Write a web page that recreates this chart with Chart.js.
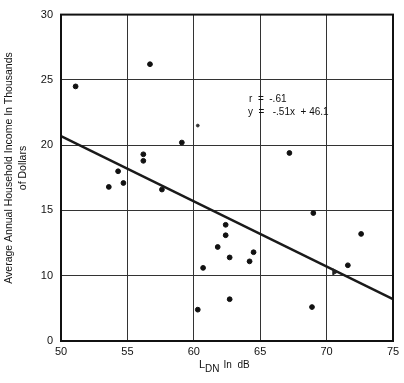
<!DOCTYPE html>
<html>
<head>
<meta charset="utf-8">
<script src="https://cdn.jsdelivr.net/npm/chart.js@4/dist/chart.umd.min.js"></script>
<style>
  html, body { margin: 0; padding: 0; background: #fff; }
</style>
</head>
<body>
<canvas id="myChart" width="404" height="383"></canvas>
<script>
// Scatter data (LDN in dB vs income in $1000s)
const ldn    = [51.1, 56.7, 59.1, 56.2, 56.2, 54.3, 53.6, 54.7, 57.6, 67.2, 62.4, 62.4, 61.8, 62.7, 60.7, 62.7, 60.3, 69.0, 72.6, 64.5, 64.2, 71.6, 68.9];
const income = [24.5, 26.2, 20.2, 19.3, 18.8, 18.0, 16.8, 17.1, 16.6, 19.4, 13.9, 13.1, 12.2, 11.4, 10.6,  8.2,  7.4, 14.8, 13.2, 11.8, 11.1, 10.8,  7.6];

// faint marks
const smallX = [60.3];
const smallY = [21.5];
const triX = [70.6];
const triY = [10.3];

// regression line ends
const fitX = [50, 75];
const fitY = [20.7, 8.2];

// y axis is broken: bottom gridline is labelled 0
const yTicks = [5, 10, 15, 20, 25, 30];
const yTickLabels = ['0', '10', '15', '20', '25', '30'];
const xTicks = [50, 55, 60, 65, 70, 75];

function toPts(xs, ys) {
  return xs.map(function(x, i){ return {x: x, y: ys[i]}; });
}

const FONT = '"Liberation Sans", Arial, sans-serif';

const labels = {
  id: 'labels',
  afterDraw: function(chart) {
    const ctx = chart.ctx;
    const a = chart.chartArea;
    ctx.save();
    // frame
    ctx.strokeStyle = '#111';
    ctx.lineWidth = 2;
    ctx.strokeRect(a.left, a.top, a.right - a.left, a.bottom - a.top);

    ctx.fillStyle = '#111';
    // equation text
    ctx.font = '10px ' + FONT;
    ctx.textAlign = 'left';
    ctx.textBaseline = 'middle';
    ctx.fillText('r  =  -.61', 249, 99);
    ctx.fillText('y  =   -.51x  + 46.1', 248, 112);

    // x title with subscript
    let x = 199;
    const base = 368;
    ctx.textBaseline = 'alphabetic';
    ctx.font = '11px ' + FONT;
    ctx.fillText('L', x, base);
    x += ctx.measureText('L').width;
    ctx.font = '10px ' + FONT;
    ctx.fillText('DN', x, base + 4);
    x += ctx.measureText('DN').width + 4;
    ctx.font = '10px ' + FONT;
    ctx.fillText('In  dB', x, base);

    // y title, two lines
    ctx.font = '10.5px ' + FONT;
    ctx.textAlign = 'center';
    ctx.textBaseline = 'middle';
    ctx.translate(9, 168);
    ctx.rotate(-Math.PI / 2);
    ctx.fillText('Average Annual Household Income In Thousands', 0, 0);
    ctx.fillText('of Dollars', 0, 14);
    ctx.restore();
  }
};

const ctx = document.getElementById('myChart').getContext('2d');

let myChart = new Chart(ctx, {
  type: 'scatter',
  data: {
    datasets: [
      {
        label: 'Fit',
        data: toPts(fitX, fitY),
        showLine: true,
        borderColor: '#1a1a1a',
        borderWidth: 2.5,
        pointRadius: 0,
        order: 2
      },
      {
        label: 'Areas',
        data: toPts(ldn, income),
        backgroundColor: '#111',
        borderColor: '#111',
        pointRadius: 2.4,
        order: 1
      },
      {
        label: 'small',
        data: toPts(smallX, smallY),
        backgroundColor: '#333',
        borderColor: '#333',
        pointRadius: 1.4,
        order: 1
      },
      {
        label: 'tri',
        data: toPts(triX, triY),
        pointStyle: 'triangle',
        rotation: 90,
        backgroundColor: '#222',
        borderColor: '#222',
        pointRadius: 3.5,
        order: 1
      }
    ]
  },
  options: {
    responsive: false,
    animation: false,
    layout: { padding: { top: 10, right: 11, left: 0, bottom: 0 } },
    plugins: {
      legend: { display: false },
      tooltip: { enabled: false }
    },
    scales: {
      x: {
        type: 'linear',
        min: 50,
        max: 75,
        afterBuildTicks: function(axis) {
          axis.ticks = xTicks.map(function(v){ return {value: v}; });
        },
        afterFit: function(axis) { axis.height = 42; },
        grid: { color: '#333', lineWidth: 1, drawTicks: false },
        border: { display: false },
        ticks: {
          color: '#111',
          padding: 4,
          font: { family: FONT, size: 11 }
        }
      },
      y: {
        type: 'linear',
        min: 5,
        max: 30,
        afterBuildTicks: function(axis) {
          axis.ticks = yTicks.map(function(v){ return {value: v}; });
        },
        afterFit: function(axis) { axis.width = 61; },
        grid: { color: '#333', lineWidth: 1, drawTicks: false },
        border: { display: false },
        ticks: {
          color: '#111',
          padding: 8,
          font: { family: FONT, size: 11 },
          callback: function(v) {
            const i = yTicks.indexOf(v);
            return i >= 0 ? yTickLabels[i] : '';
          }
        }
      }
    }
  },
  plugins: [labels]
});
</script>
</body>
</html>
